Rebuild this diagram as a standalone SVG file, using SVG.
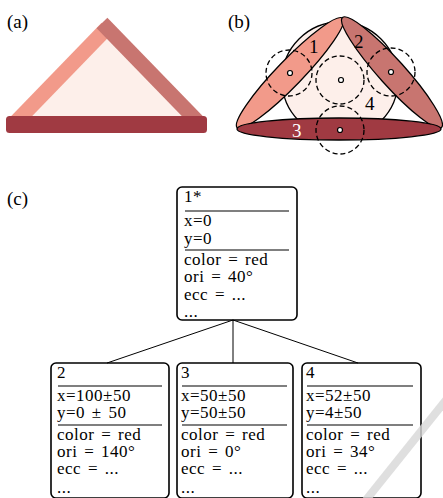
<svg xmlns="http://www.w3.org/2000/svg" width="443" height="498" viewBox="0 0 443 498">
<style>
text{font-family:"Liberation Serif","Times New Roman",serif;font-size:17px;fill:#000}
.t{letter-spacing:0.5px;word-spacing:2px}
.lbl{font-size:19px}
.box{fill:none;stroke:#000;stroke-width:1.6}
.sep{stroke:#000;stroke-width:1.2}
.dash{fill:none;stroke:#000;stroke-width:1.3;stroke-dasharray:5,3}
.dot{fill:#fff;stroke:#000;stroke-width:1.2}
.el{stroke:#000;stroke-width:1.3}
.conn{stroke:#000;stroke-width:1;fill:none}
</style>
<rect width="443" height="498" fill="#fff"/>
<g id="panel-a">
<text class="lbl" x="7" y="28">(a)</text>
<polygon points="107,28 14,124 200,124" fill="#fdefea"/>
<line x1="14" y1="124" x2="107" y2="28" stroke="#f29a8a" stroke-width="15"/>
<line x1="102" y1="23" x2="200" y2="124" stroke="#c87570" stroke-width="15"/>
<rect x="6" y="116" width="201" height="17" rx="3.5" fill="#a03a42"/>
</g>
<g id="panel-b">
<text class="lbl" x="228" y="28">(b)</text>
<circle cx="340" cy="80" r="58" fill="#fdefea" stroke="#000" stroke-width="1.3"/>
<ellipse class="el" cx="290" cy="73" rx="76" ry="13" fill="#f29a8a" transform="rotate(-46 290 73)"/>
<ellipse class="el" cx="392" cy="72.5" rx="74" ry="13" fill="#c87570" transform="rotate(48 392 72.5)"/>
<ellipse class="el" cx="339" cy="129" rx="102" ry="11" fill="#a03a42"/>
<circle class="dash" cx="289" cy="73" r="23"/>
<circle class="dash" cx="340" cy="80" r="24"/>
<circle class="dash" cx="391" cy="72" r="24"/>
<circle class="dash" cx="340" cy="130" r="24"/>
<circle class="dot" cx="290" cy="73" r="2.5"/>
<circle class="dot" cx="341" cy="80" r="2.5"/>
<circle class="dot" cx="391" cy="72" r="2.5"/>
<circle class="dot" cx="340" cy="130" r="2.5"/>
<text class="lbl" x="309" y="53">1</text>
<text class="lbl" x="354" y="48">2</text>
<text class="lbl" x="292" y="137" style="fill:#fff">3</text>
<text class="lbl" x="365" y="110">4</text>
</g>
<text class="lbl" x="7" y="205">(c)</text>
<g id="connectors">
<line class="conn" x1="233" y1="320" x2="107" y2="363"/>
<line class="conn" x1="233" y1="320" x2="233" y2="363"/>
<line class="conn" x1="233" y1="320" x2="358" y2="363"/>
</g>
<g id="node-1">
<rect class="box" x="177" y="187" width="120" height="133" rx="5"/>
<line class="sep" x1="185" y1="211" x2="289" y2="211"/>
<line class="sep" x1="185" y1="250" x2="289" y2="250"/>
<text class="t" x="184" y="202">1*</text>
<text class="t" x="184" y="226">x=0</text>
<text class="t" x="184" y="244">y=0</text>
<text class="t" x="184" y="265">color = red</text>
<text class="t" x="184" y="282">ori = 40°</text>
<text class="t" x="184" y="300">ecc = ...</text>
<text class="t" x="184" y="317">...</text>
</g>
<g id="node-2">
<rect class="box" x="51" y="363" width="118" height="135" rx="5"/>
<line class="sep" x1="58" y1="386" x2="162" y2="386"/>
<line class="sep" x1="58" y1="425" x2="162" y2="425"/>
<text class="t" x="57" y="378">2</text>
<text class="t" x="57" y="401">x=100±50</text>
<text class="t" x="57" y="418">y=0 ± 50</text>
<text class="t" x="57" y="440">color = red</text>
<text class="t" x="57" y="457">ori = 140°</text>
<text class="t" x="57" y="474">ecc = ...</text>
<text class="t" x="57" y="493">...</text>
</g>
<g id="node-3">
<rect class="box" x="177" y="363" width="116" height="135" rx="5"/>
<line class="sep" x1="182" y1="386" x2="287" y2="386"/>
<line class="sep" x1="182" y1="425" x2="287" y2="425"/>
<text class="t" x="181" y="378">3</text>
<text class="t" x="181" y="401">x=50±50</text>
<text class="t" x="181" y="418">y=50±50</text>
<text class="t" x="181" y="440">color = red</text>
<text class="t" x="181" y="457">ori = 0°</text>
<text class="t" x="181" y="474">ecc = ...</text>
<text class="t" x="181" y="493">...</text>
</g>
<g id="node-4">
<rect class="box" x="302" y="363" width="119" height="135" rx="5"/>
<line class="sep" x1="307" y1="386" x2="413" y2="386"/>
<line class="sep" x1="307" y1="425" x2="413" y2="425"/>
<text class="t" x="306" y="378">4</text>
<text class="t" x="306" y="401">x=52±50</text>
<text class="t" x="306" y="418">y=4±50</text>
<text class="t" x="306" y="440">color = red</text>
<text class="t" x="306" y="457">ori = 34°</text>
<text class="t" x="306" y="474">ecc = ...</text>
<text class="t" x="306" y="493">...</text>
</g>
<line x1="446" y1="400" x2="366" y2="500" stroke="#d8d8d8" stroke-width="8" opacity="0.8"/>
</svg>
